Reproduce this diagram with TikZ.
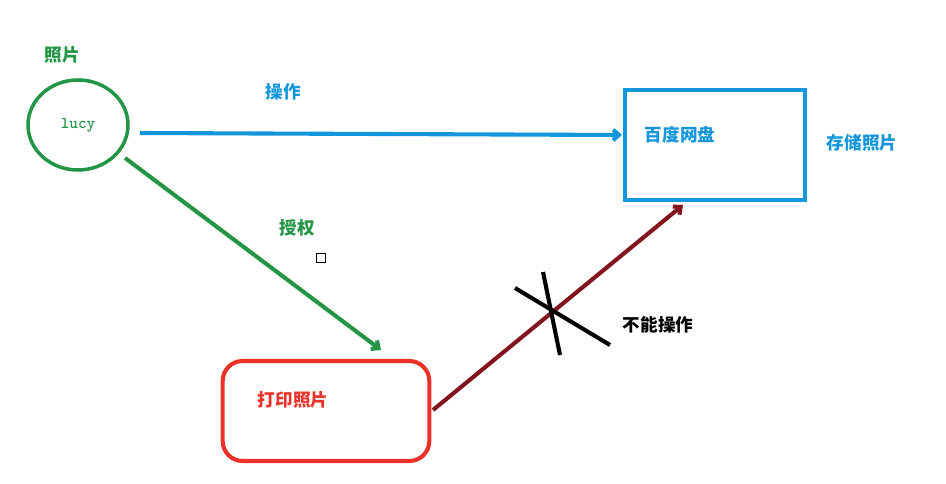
\documentclass[tikz,border=0pt]{standalone}
\usepackage{fontspec}
\newfontfamily\cjk{Noto Sans CJK SC}
\usetikzlibrary{arrows.meta,shapes.geometric}
\definecolor{grn}{RGB}{34,150,70}
\definecolor{blu}{RGB}{20,150,220}
\definecolor{rd}{RGB}{235,50,40}
\definecolor{drd}{RGB}{130,20,30}
\tikzset{
  lbl/.style={font=\cjk\bfseries\fontsize{15}{15}\selectfont},
  conn/.style={line width=3.5pt,-{Straight Barb[length=5pt,width=9pt]}}
}
\begin{document}
\begin{tikzpicture}[x=0.03cm,y=-0.03cm]
  \useasboundingbox (0,0) rectangle (946,484);

  \node (lucy) [draw=grn,line width=3pt,ellipse,
    inner sep=0pt,minimum width=3cm,minimum height=2.7cm] at (78,125)
    {\ttfamily\bfseries\color{grn}\fontsize{14}{14}\selectfont lucy};
  \node (pan) [draw=blu,line width=3.5pt,minimum width=5.4cm,minimum height=3.3cm] at (715,145) {};
  \node (print) [draw=rd,line width=3.5pt,rounded corners=0.6cm,minimum width=6.2cm,minimum height=3cm] at (326,411) {};

  \node (l1) [lbl,text=grn] at (62,55) {照片};
  \node (l2) [lbl,text=blu] at (283,92) {操作};
  \node (l3) [lbl,text=blu] at (680,135) {百度网盘};
  \node (l4) [lbl,text=blu] at (862,143) {存储照片};
  \node (l5) [lbl,text=grn] at (297,228) {授权};
  \node (l6) [lbl,text=rd] at (293,400) {打印照片};
  \node (l7) [lbl] at (658,325) {不能操作};
  \node (sq) [draw,line width=0.8pt,minimum size=0.25cm,inner sep=0pt] at (321,258) {};

  \coordinate (a1) at (140,133);
  \coordinate (a2) at (622,135);
  \coordinate (g1) at (125,158);
  \coordinate (g2) at (381,350);
  \coordinate (r1) at (433,410);
  \coordinate (r2) at (683,205);
  \coordinate (x1) at (515,288);
  \coordinate (x2) at (610,345);
  \coordinate (x3) at (543,272);
  \coordinate (x4) at (560,355);

  \draw[conn,blu] (a1) -- (a2);
  \draw[conn,grn] (g1) -- (g2);
  \draw[conn,drd] (r1) -- (r2);
  \draw[line width=3.5pt] (x1) -- (x2);
  \draw[line width=3.5pt] (x3) -- (x4);
\end{tikzpicture}
\end{document}
